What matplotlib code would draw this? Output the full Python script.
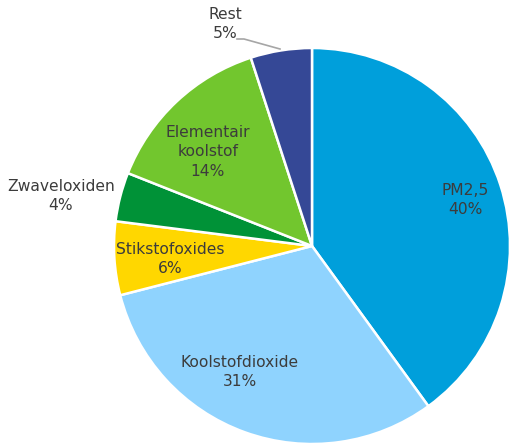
import matplotlib
matplotlib.use("Agg")
import matplotlib.pyplot as plt

categories = ["PM2,5", "Koolstofdioxide", "Stikstofoxides", "Zwaveloxiden", "Elementair koolstof", "Rest"]
values = [40, 31, 6, 4, 14, 5]
label_texts = ["PM2,5", "Koolstofdioxide", "Stikstofoxides", "Zwaveloxiden", "Elementair\nkoolstof", "Rest"]
colors = ["#009fdb", "#8fd3fe", "#ffd700", "#009237", "#72c62e", "#354896"]

W, H = 509, 445
fig = plt.figure(figsize=(W / 100, H / 100), dpi=100)
ax = fig.add_axes([0, 0, 1, 1])

cx, cy, R = 312, H - 246, 198
ax.pie(values, colors=colors, startangle=90, counterclock=False,
       center=(cx, cy), radius=R, frame=True,
       wedgeprops=dict(edgecolor="white", linewidth=1.8))
ax.set_xlim(0, W)
ax.set_ylim(0, H)
ax.set_aspect("equal")
ax.axis("off")

# label anchor positions (pixel layout, from top-left)
label_pos = [(465, 200), (240, 372), (170, 259), (61, 196), (208, 152), (225, 24)]
tc = "#3c3c3c"
for txt, v, (px, py) in zip(label_texts, values, label_pos):
    ax.text(px, H - py, f"{txt}\n{v}%", ha="center", va="center",
            fontsize=11.2, color=tc, linespacing=1.35, family="DejaVu Sans")

# leader line for Rest
ax.plot([237, 244, 280], [H - 39, H - 39, H - 49], color="#a6a6a6", lw=1.2)

fig.savefig("out.png", dpi=100)
